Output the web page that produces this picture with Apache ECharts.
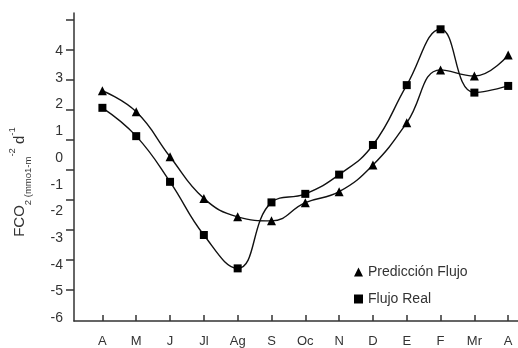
<!DOCTYPE html>
<html>
<head>
<meta charset="utf-8">
<script src="https://cdn.jsdelivr.net/npm/echarts@6/dist/echarts.min.js"></script>
<style>
  html, body { margin: 0; padding: 0; background: #fff; }
  #chart { width: 518px; height: 348px; }
</style>
</head>
<body>
<div id="chart"></div>
<script>
// meses (eje x)
var meses = ['A', 'M', 'J', 'Jl', 'Ag', 'S', 'Oc', 'N', 'D', 'E', 'F', 'Mr', 'A'];
// valores
var prediccion = [2.52, 1.73, 0.05, -1.51, -2.20, -2.35, -1.67, -1.26, -0.26, 1.32, 3.30, 3.07, 3.86];
var real = [1.88, 0.82, -0.89, -2.88, -4.13, -1.66, -1.34, -0.62, 0.49, 2.73, 4.82, 2.45, 2.70];
// etiquetas del eje y
var etiquetasY = [-6, -5, -4, -3, -2, -1, 0, 1, 2, 3, 4];

var fuente = "'Liberation Sans Narrow', 'Liberation Sans', Arial, sans-serif";

function pares(vals) {
    return vals.map(function (v, i) { return [i, v]; });
}
var indices = meses.map(function (m, i) { return i; });

var myChart = echarts.init(document.getElementById('chart'));

var option = {
    animation: false,
    grid: { left: 74, right: 0, top: 13, bottom: 27, outerBoundsMode: 'none' },
    xAxis: {
        type: 'value',
        min: -0.84,
        max: 12.29,
        axisLine: { onZero: false, lineStyle: { color: '#333', width: 1.5 } },
        axisTick: { inside: true, length: 6, customValues: indices, lineStyle: { color: '#333', width: 1.5 } },
        axisLabel: {
            customValues: indices,
            margin: 14,
            color: '#333',
            fontSize: 13,
            fontFamily: fuente,
            formatter: function (v) { return meses[Math.round(v)]; }
        },
        splitLine: { show: false }
    },
    yAxis: [{
        type: 'value',
        min: -6.1,
        max: 5.43,
        axisLine: { show: true, onZero: false, lineStyle: { color: '#333', width: 1.5 } },
        axisTick: { show: false },
        axisLabel: {
            customValues: etiquetasY,
            margin: 11,
            color: '#333',
            fontSize: 14,
            fontFamily: fuente
        },
        splitLine: { show: false },
        name: '{a|FCO}{b|2 (mmo1-m}{c|-2}{a| d}{c|-1}',
        nameLocation: 'middle',
        nameGap: 41,
        nameRotate: 90,
        nameTextStyle: {
            color: '#333',
            fontFamily: fuente,
            padding: [0, 30, 0, 0],
            rich: {
                a: { fontSize: 15, fontFamily: fuente, color: '#333', verticalAlign: 'middle', lineHeight: 26 },
                b: { fontSize: 9.5, fontFamily: fuente, color: '#333', verticalAlign: 'bottom', lineHeight: 24 },
                c: { fontSize: 9.5, fontFamily: fuente, color: '#333', verticalAlign: 'top', lineHeight: 24 }
            }
        }
    }, {
        // marcas del eje y (en la figura original no coinciden con las etiquetas)
        type: 'value',
        position: 'left',
        min: -0.033,
        max: 10.233,
        axisLine: { show: false, onZero: false },
        axisTick: { length: 8, customValues: [1, 2, 3, 4, 5, 6, 7, 8, 9, 10], lineStyle: { color: '#333', width: 1.5 } },
        axisLabel: { show: false },
        splitLine: { show: false }
    }],
    legend: {
        orient: 'vertical',
        left: 349,
        top: 260,
        itemWidth: 9,
        itemHeight: 9,
        itemGap: 13,
        textStyle: { color: '#333', fontSize: 14, fontFamily: fuente },
        data: [
            { name: 'Predicción Flujo', icon: 'triangle' },
            { name: 'Flujo Real', icon: 'rect' }
        ]
    },
    series: [{
        name: 'Predicción Flujo',
        type: 'line',
        smooth: 0.45,
        data: pares(prediccion),
        symbol: 'triangle',
        symbolSize: 9,
        itemStyle: { color: '#000' },
        lineStyle: { color: '#111', width: 1.4 }
    }, {
        name: 'Flujo Real',
        type: 'line',
        smooth: 0.45,
        data: pares(real),
        symbol: 'rect',
        symbolSize: 8,
        itemStyle: { color: '#000' },
        lineStyle: { color: '#111', width: 1.4 }
    }]
};

myChart.setOption(option);
</script>
</body>
</html>
